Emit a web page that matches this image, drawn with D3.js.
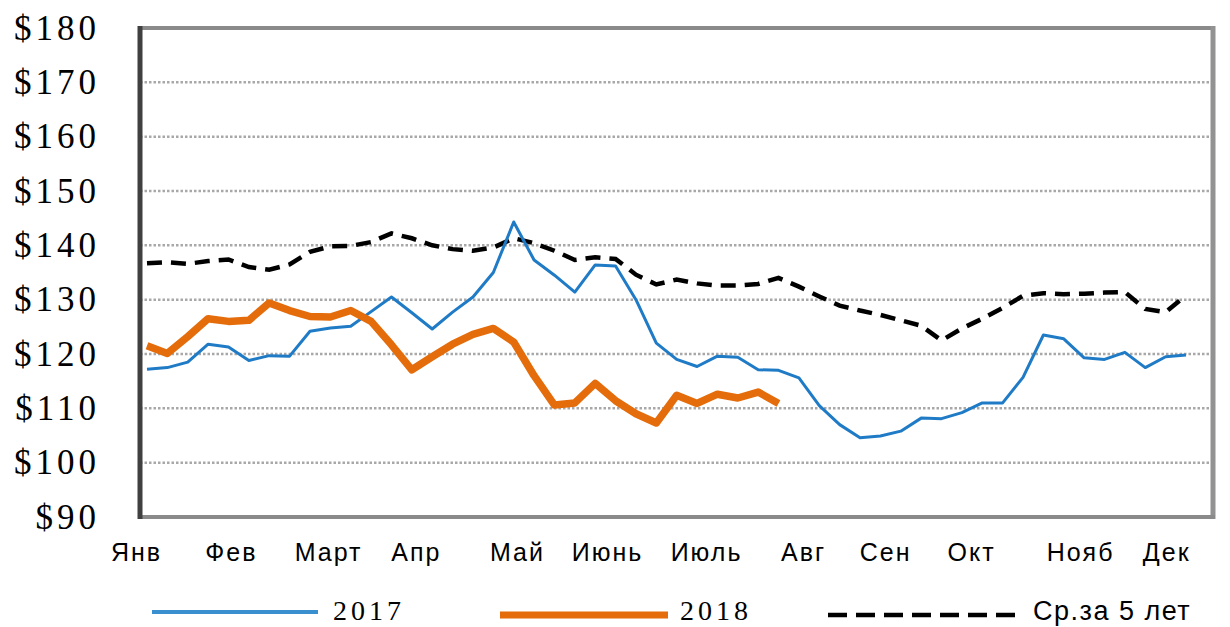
<!DOCTYPE html>
<html>
<head>
  <meta charset="utf-8">
  <title>Цены</title>
  <script src="https://d3js.org/d3.v7.min.js"></script>
  <style>
    body { margin: 0; background: #fff; }
  </style>
</head>
<body>
  <script>
    // weekly prices
    var weeks2017 = [117.2, 117.5, 118.5, 121.8, 121.3, 118.8, 119.7, 119.6, 124.2, 124.8,
                     125.1, 127.8, 130.5, 127.6, 124.6, 127.7, 130.5, 135, 144.3, 137.3,
                     134.5, 131.4, 136.4, 136.2, 130, 122, 119, 117.7, 119.6, 119.4,
                     117.1, 117, 115.6, 110.5, 107, 104.6, 104.9, 105.8, 108.2, 108.1,
                     109.2, 111, 111, 115.7, 123.5, 122.8, 119.3, 119, 120.3, 117.5,
                     119.5, 119.8];
    var weeks2018 = [121.5, 120.1, 123.2, 126.5, 126, 126.2, 129.4, 128, 126.9, 126.8,
                     128, 126, 121.7, 117.1, 119.5, 121.8, 123.6, 124.7, 122.2, 116,
                     110.6, 111, 114.6, 111.4, 109, 107.3, 112.4, 110.9, 112.6, 111.9,
                     113, 110.9];
    var avg5 = [136.7, 136.9, 136.6, 137.1, 137.4, 136, 135.5, 136.5, 138.8, 139.8,
                139.9, 140.6, 142.2, 141.3, 140, 139.3, 139, 139.6, 141.3, 140.4,
                139, 137.3, 137.8, 137.5, 134.6, 132.8, 133.7, 133, 132.6, 132.6,
                132.9, 134, 132.4, 130.6, 128.9, 128, 127.2, 126.2, 125.2, 122.5,
                124.7, 126.5, 128.5, 130.7, 131.2, 131, 131.1, 131.3, 131.4, 128.3,
                127.7, 130.8];
    var monthLabels = ['Янв', 'Фев', 'Март', 'Апр', 'Май', 'Июнь', 'Июль', 'Авг', 'Сен', 'Окт', 'Нояб', 'Дек'];
    var monthPos = [-0.54, 4.12, 8.89, 13.2, 18.16, 22.58, 27.44, 32.2, 36.23, 40.45, 45.8, 50.03];
    var yTicks = [90, 100, 110, 120, 130, 140, 150, 160, 170, 180];
    var seriesNames = ['2017', '2018', 'Ср.за 5 лет'];

    var width = 1230, height = 627;
    var plot = { left: 140, right: 1213, top: 28, bottom: 517 };

    var svg = d3.select('body').append('svg')
      .attr('width', width)
      .attr('height', height);

    var x = d3.scaleLinear().domain([0, 51]).range([147, 1186]);
    var y = d3.scaleLinear().domain([90, 180]).range([plot.bottom, plot.top]);

    // grid
    svg.append('g').selectAll('line')
      .data(yTicks.filter(function (d) { return d > 90 && d < 180; }))
      .enter().append('line')
      .attr('x1', plot.left).attr('x2', plot.right)
      .attr('y1', function (d) { return y(d); })
      .attr('y2', function (d) { return y(d); })
      .attr('stroke', '#a8a8a8')
      .attr('stroke-width', 2.5)
      .attr('stroke-dasharray', '2.5,2');

    // y axis labels
    var yAxis = svg.append('g')
      .attr('transform', 'translate(' + (plot.left - 40) + ',0)')
      .call(d3.axisLeft(y).tickValues(yTicks).tickSize(0).tickPadding(0)
        .tickFormat(function (d) { return '$' + d; }));
    yAxis.select('.domain').remove();
    yAxis.selectAll('text')
      .attr('fill', '#000')
      .style('font', '35px "Liberation Serif", serif')
      .style('letter-spacing', '4px');

    // x axis labels
    var xAxis = svg.append('g')
      .attr('transform', 'translate(0,' + (plot.bottom + 26) + ')')
      .call(d3.axisBottom(x).tickValues(monthPos).tickSize(0).tickPadding(0)
        .tickFormat(function (d, i) { return monthLabels[i]; }));
    xAxis.select('.domain').remove();
    xAxis.selectAll('text')
      .attr('fill', '#000')
      .attr('dy', '0.71em')
      .style('font', '25px "Liberation Sans", Arial, sans-serif')
      .style('letter-spacing', '2px');

    var line = d3.line()
      .x(function (d, i) { return x(i); })
      .y(function (d) { return y(d); });

    svg.append('path').datum(avg5)
      .attr('d', line)
      .attr('fill', 'none')
      .attr('stroke', '#000')
      .attr('stroke-width', 4.5)
      .attr('stroke-dasharray', '15,9');

    svg.append('path').datum(weeks2017)
      .attr('d', line)
      .attr('fill', 'none')
      .attr('stroke', '#1f7bc6')
      .attr('stroke-width', 3)
      .attr('stroke-linejoin', 'round');

    svg.append('path').datum(weeks2018)
      .attr('d', line)
      .attr('fill', 'none')
      .attr('stroke', '#e46c0a')
      .attr('stroke-width', 7.5)
      .attr('stroke-linejoin', 'round');

    // frame
    svg.append('line')
      .attr('x1', plot.left).attr('x2', plot.right)
      .attr('y1', plot.top).attr('y2', plot.top)
      .attr('stroke', '#8a8a8a').attr('stroke-width', 4);
    svg.append('line')
      .attr('x1', plot.right).attr('x2', plot.right)
      .attr('y1', plot.top - 2).attr('y2', plot.bottom + 2)
      .attr('stroke', '#929292').attr('stroke-width', 5);
    svg.append('line')
      .attr('x1', plot.left).attr('x2', plot.right + 2)
      .attr('y1', plot.bottom).attr('y2', plot.bottom)
      .attr('stroke', '#8a8a8a').attr('stroke-width', 4);
    svg.append('line')
      .attr('x1', plot.left).attr('x2', plot.left)
      .attr('y1', plot.top - 2).attr('y2', plot.bottom + 2)
      .attr('stroke', '#404040').attr('stroke-width', 5);

    // legend
    var legend = svg.append('g');
    var items = [
      { name: seriesNames[0], x1: 152, x2: 318, ty: 612, color: '#3a8fce', w: 4, dash: null, tx: 333, font: '28px "Liberation Serif", serif', ls: '4px' },
      { name: seriesNames[1], x1: 500, x2: 668, ty: 615, color: '#e46c0a', w: 7, dash: null, tx: 680, font: '28px "Liberation Serif", serif', ls: '4px' },
      { name: seriesNames[2], x1: 828, x2: 1022, ty: 615, color: '#000', w: 4.5, dash: '19,9', tx: 1033, font: '27px "Liberation Sans", Arial, sans-serif', ls: '1.5px' }
    ];
    items.forEach(function (it) {
      legend.append('line')
        .attr('x1', it.x1).attr('x2', it.x2)
        .attr('y1', it.ty).attr('y2', it.ty)
        .attr('stroke', it.color)
        .attr('stroke-width', it.w)
        .attr('stroke-dasharray', it.dash);
      legend.append('text')
        .attr('x', it.tx).attr('y', 620)
        .text(it.name)
        .style('font', it.font)
        .style('letter-spacing', it.ls);
    });
  </script>
</body>
</html>
